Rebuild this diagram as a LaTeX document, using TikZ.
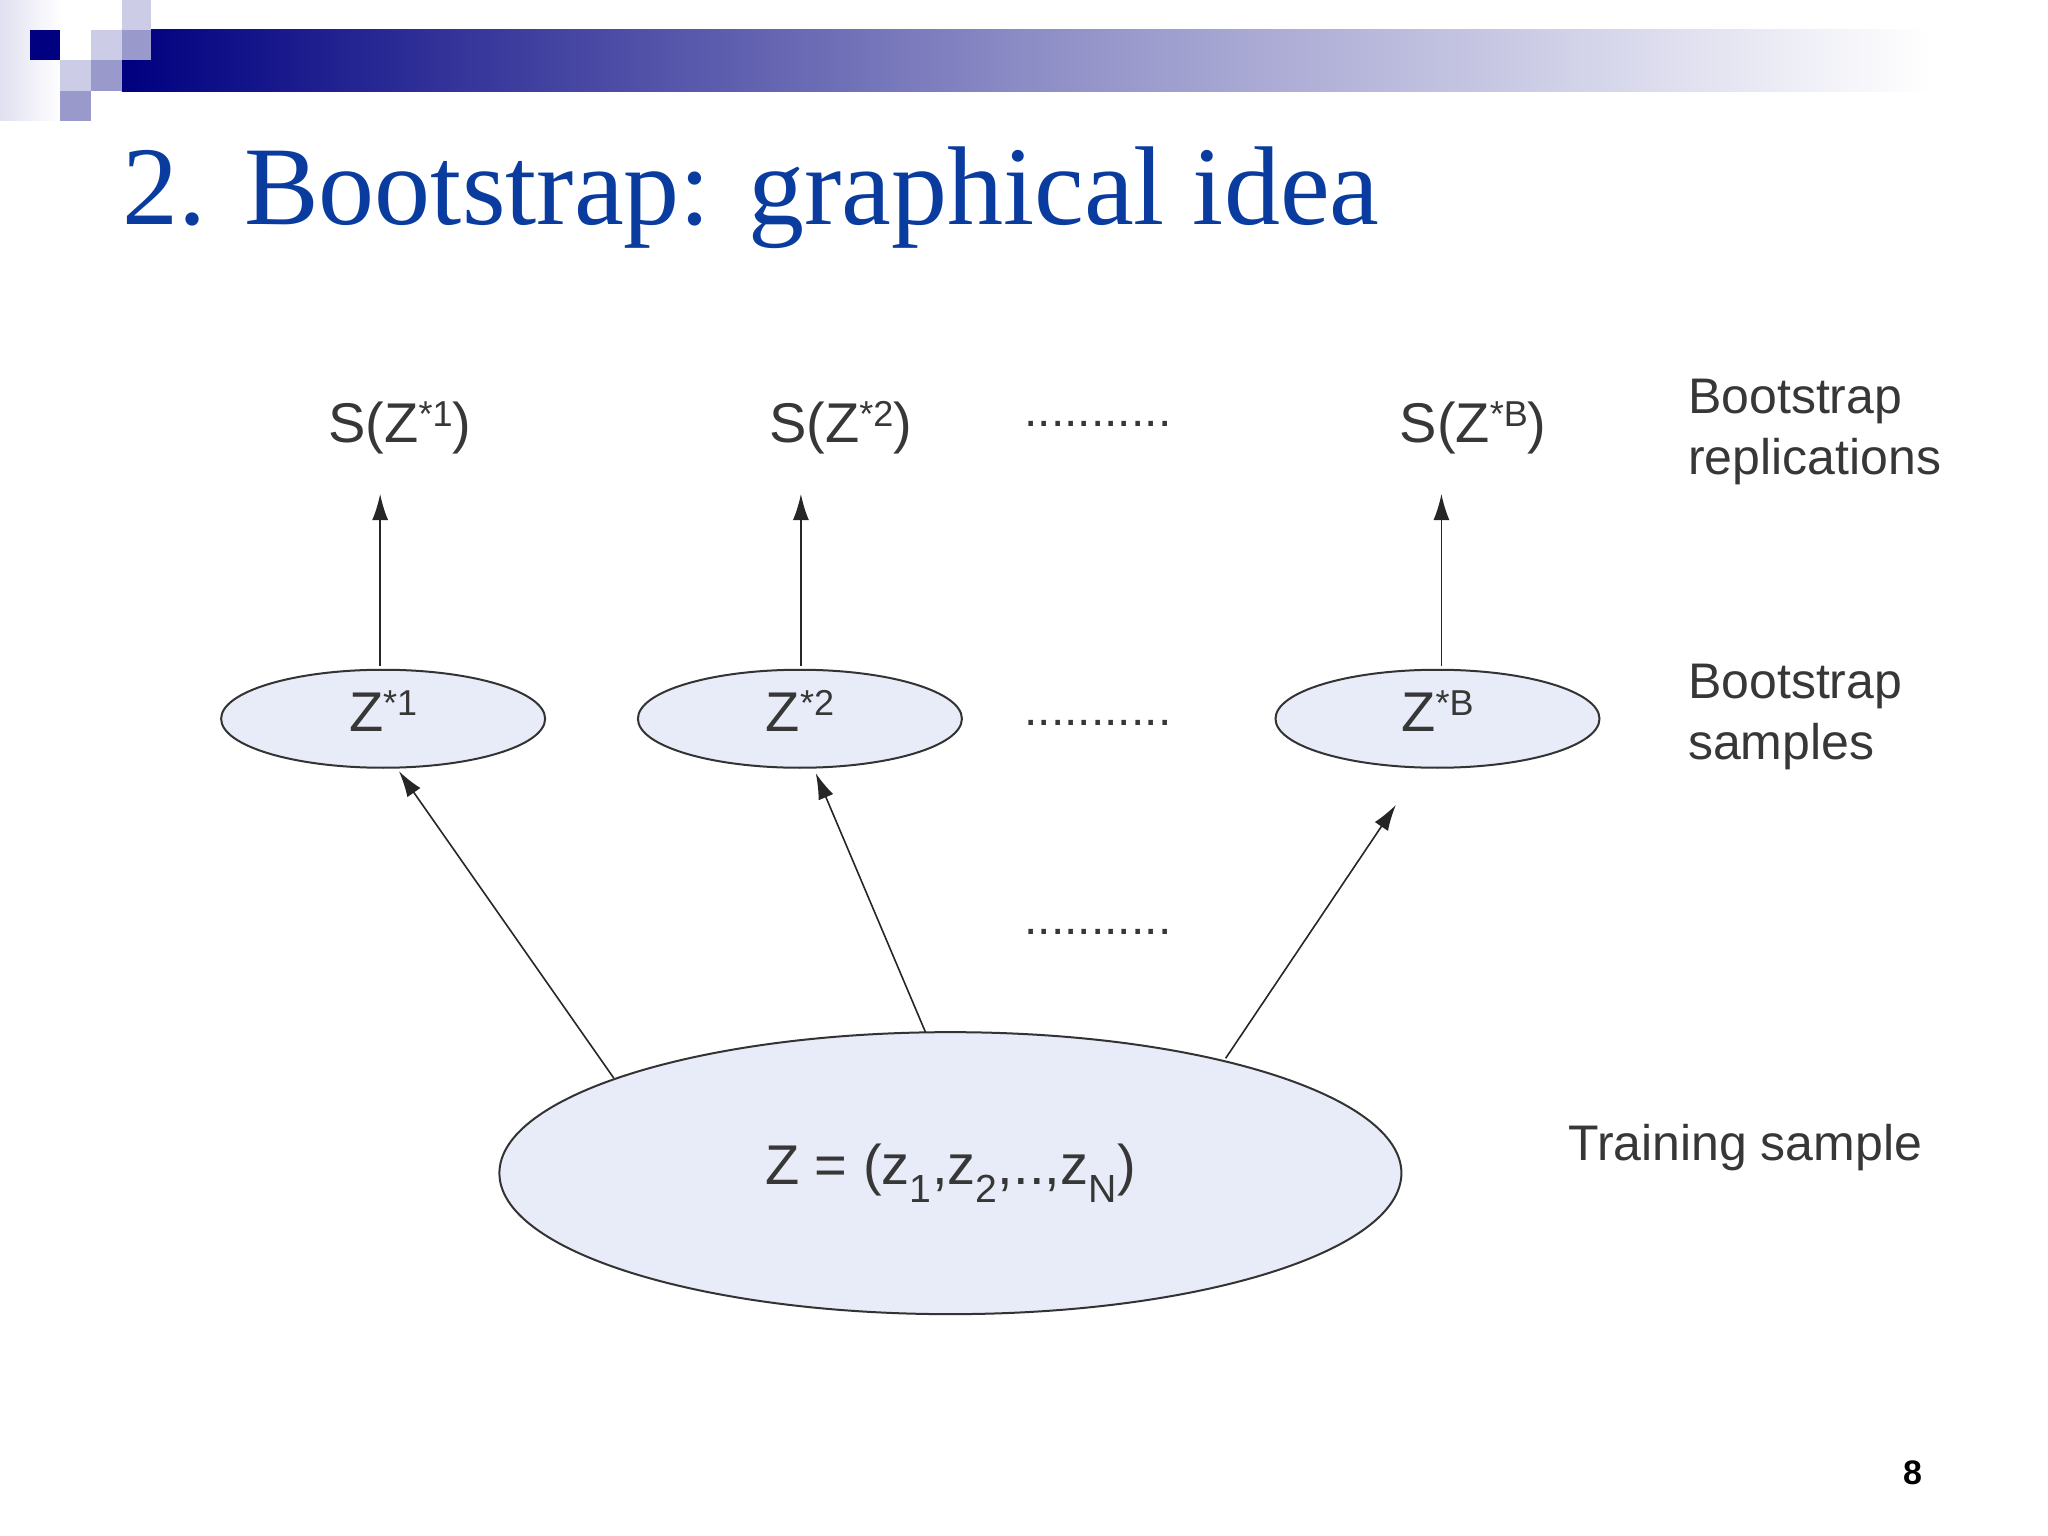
\documentclass[tikz,border=0pt]{standalone}
\usepackage{fontspec}
\setmainfont{Liberation Sans}
\newfontfamily\titlefont{Liberation Serif}
\usetikzlibrary{arrows.meta,shapes.geometric}
\definecolor{navy}{RGB}{0,0,128}
\definecolor{lav1}{RGB}{204,204,230}
\definecolor{lav2}{RGB}{153,153,204}
\definecolor{titleblue}{RGB}{10,60,160}
\definecolor{efill}{RGB}{232,236,248}
\definecolor{txt}{RGB}{55,55,55}
\newcommand{\supx}[1]{\raisebox{0.55ex}{\fontsize{36}{40}\selectfont #1}}
\tikzset{
  ell/.style={ellipse, draw=black!80, line width=2pt, fill=efill},
  lbl/.style={text=txt, font=\fontsize{56}{64}\selectfont, inner sep=0pt},
  rlbl/.style={text=txt, font=\fontsize{50}{61}\selectfont, inner sep=0pt},
  arr/.style={-{Latex[length=26pt,width=16pt]}, line width=1.6pt, black!85},
  dotsl/.style={font=\fontsize{48}{48}\selectfont, text=txt},
}
\begin{document}
\begin{tikzpicture}[x=0.99pt,y=-0.99pt]
\useasboundingbox (0,0) rectangle (2068.7,1551.5);
% decoration
\shade[left color=lav1!60, right color=white] (0,0) rectangle (62,122);
\shade[left color=navy, right color=white, middle color=navy!45] (123,30) rectangle (1950,92);
\fill[navy] (30,30) rectangle (61,61);
\fill[lav1] (123,0) rectangle (153,30);
\fill[lav1] (92,30) rectangle (123,61);
\fill[lav2] (123,30) rectangle (153,61);
\fill[lav1] (61,61) rectangle (92,92);
\fill[lav2] (92,61) rectangle (123,92);
\fill[lav2] (61,92) rectangle (92,122);
\fill[white] (61,30) rectangle (92,61);
\node[anchor=base west, text=titleblue, inner sep=0pt, font=\titlefont\fontsize{112}{120}\selectfont] (title) at (124,227) {2. Bootstrap: graphical idea};
% nodes
\node[lbl] (s1) at (404,432) {S(Z\supx{*1})};
\node[lbl] (s2) at (849,432) {S(Z\supx{*2})};
\node[lbl] (sb) at (1488,432) {S(Z\supx{*B})};
\node[ell, minimum width=324, minimum height=98] (z1) at (387,726) {};
\node[ell, minimum width=324, minimum height=98] (z2) at (808,726) {};
\node[ell, minimum width=324, minimum height=98] (zb) at (1452,726) {};
\node[lbl] (z1t) at (387,718) {Z\supx{*1}};
\node[lbl] (z2t) at (808,718) {Z\supx{*2}};
\node[lbl] (zbt) at (1452,718) {Z\supx{*B}};
\node[ell, minimum width=902, minimum height=282] (z) at (960,1185) {};
\node[lbl] (zt) at (960,1185) {Z = (z\textsubscript{1},z\textsubscript{2},..,z\textsubscript{N})};
\node[dotsl] (d1) at (1109,428) {...........};
\node[dotsl] (d2) at (1109,730) {...........};
\node[dotsl] (d3) at (1109,941) {...........};
\node[rlbl, anchor=west, align=left] (br) at (1705,436) {Bootstrap\\replications};
\node[rlbl, anchor=west, align=left] (bs) at (1705,724) {Bootstrap\\samples};
\node[rlbl, anchor=west] (ts) at (1584,1159) {Training sample};
\node[inner sep=0pt, font=\bfseries\fontsize{34}{40}\selectfont] (pg) at (1932,1488) {8};
% connectors
\coordinate (a1s) at (384,673); \coordinate (a1e) at (384,499);
\coordinate (a2s) at (809,673); \coordinate (a2e) at (809,499);
\coordinate (abs) at (1456,673); \coordinate (abe) at (1456,499);
\draw[arr] (a1s) -- (a1e);
\draw[arr] (a2s) -- (a2e);
\draw[arr] (abs) -- (abe);
\coordinate (b1s) at (620,1089); \coordinate (b1e) at (403,779);
\coordinate (b2s) at (935,1043); \coordinate (b2e) at (824,781);
\coordinate (bbs) at (1238,1069); \coordinate (bbe) at (1410,813);
\draw[arr] (b1s) -- (b1e);
\draw[arr] (b2s) -- (b2e);
\draw[arr] (bbs) -- (bbe);
\end{tikzpicture}
\end{document}
